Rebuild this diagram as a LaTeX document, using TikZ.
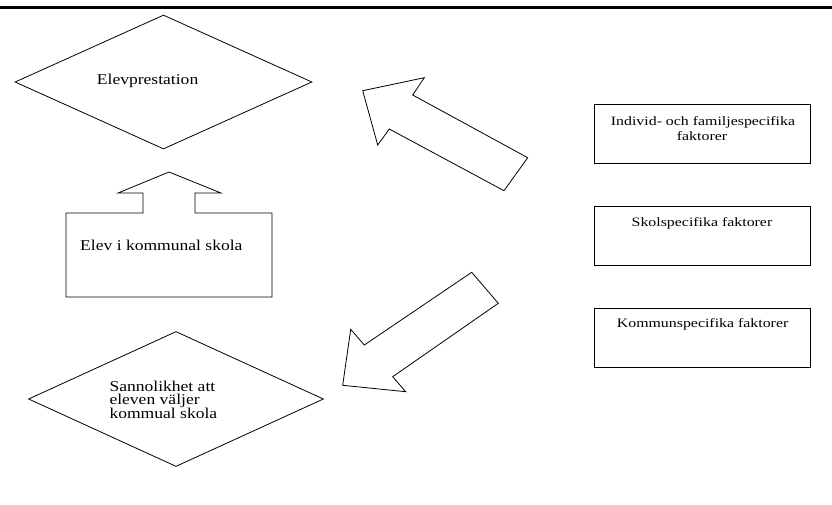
\documentclass[tikz,border=0pt]{standalone}
\usepackage{fontspec}
\setmainfont{Liberation Serif}
\newfontfamily\lftfont{Liberation Serif}[FakeStretch=1.17]
\newfontfamily\rgtfont{Liberation Serif}[FakeStretch=1.24]
\usetikzlibrary{shapes.geometric}
\begin{document}
\begin{tikzpicture}[x=1pt,y=-1pt,
  shp/.style={draw=black,line width=0.8pt,line join=miter},
  ltxt/.style={inner sep=0pt,font=\lftfont\fontsize{15}{14}\selectfont,anchor=base west},
  rtxt/.style={inner sep=0pt,font=\rgtfont\fontsize{12.8}{14}\selectfont,anchor=base}]
\useasboundingbox (0,0) rectangle (832,504);
% top rule
\draw[line width=3pt] (0,7.5) -- (832,7.5);
% diamond 1
\node[shp,diamond,inner sep=0pt,minimum width=297pt,minimum height=134pt] (d1) at (163.5,82) {};
\node[ltxt] (d1t) at (96.7,84.3) {Elevprestation};
% box with up arrow
\draw[shp] (66,213) -- (143,213) -- (143,193) -- (118,193) -- (169,172) -- (221,193)
  -- (195,193) -- (195,213) -- (272,213) -- (272,297) -- (66,297) -- cycle;
\node[ltxt] (elevt) at (80,250) {Elev i kommunal skola};
% diamond 2
\node[shp,diamond,inner sep=0pt,minimum width=295pt,minimum height=135pt] (d2) at (176,399) {};
\node[ltxt] (d2a) at (109.3,391) {Sannolikhet att};
\node[ltxt] (d2b) at (109.3,404.7) {eleven väljer};
\node[ltxt] (d2c) at (109.3,418.4) {kommual skola};
% block arrow up-left
\draw[shp] (362.7,90.7) -- (424.3,77.7) -- (412.7,95) -- (527.7,157.7) -- (504,190.7)
  -- (389.3,129) -- (377.7,145) -- cycle;
% block arrow down-left
\draw[shp] (471.7,272.3) -- (498.3,303.3) -- (392.7,376.7) -- (405.7,391.7) -- (342.7,385.3)
  -- (350.7,329.3) -- (364.3,345) -- cycle;
% right boxes
\node[shp,rectangle,inner sep=0pt,minimum width=216.7pt,minimum height=59.3pt] (b1) at (702.3,133.7) {};
\node[rtxt] (b1a) at (703,125.5) {Individ- och familjespecifika};
\node[rtxt] (b1b) at (702,140) {faktorer};
\node[shp,rectangle,inner sep=0pt,minimum width=216.7pt,minimum height=59.7pt] (b2) at (702.3,235.8) {};
\node[rtxt] (b2a) at (702,226.7) {Skolspecifika faktorer};
\node[shp,rectangle,inner sep=0pt,minimum width=216.7pt,minimum height=59.4pt] (b3) at (702.3,338) {};
\node[rtxt] (b3a) at (702.6,327.3) {Kommunspecifika faktorer};
\end{tikzpicture}
\end{document}
